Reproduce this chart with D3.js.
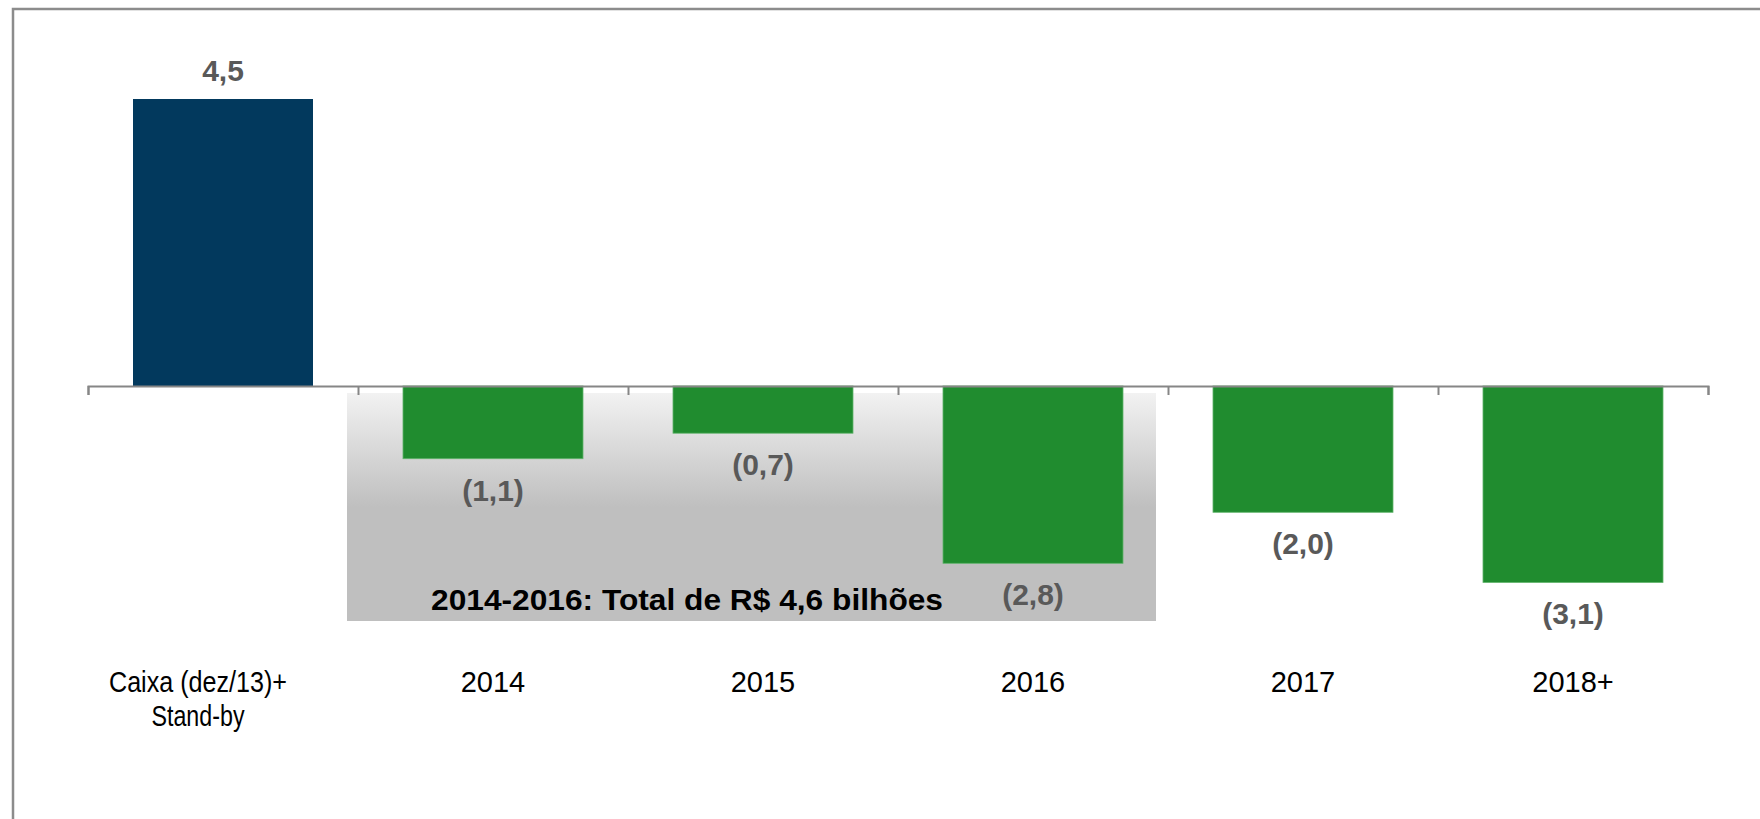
<!DOCTYPE html>
<html>
<head>
<meta charset="utf-8">
<script src="https://cdn.jsdelivr.net/npm/d3@7"></script>
<style>
body { margin: 0; background: #fff; }
text { font-family: "Liberation Sans", Arial, sans-serif; }
</style>
</head>
<body>
<div id="graph"></div>
<script>
var data = [
  {"label": ["Caixa (dez/13)+", "Stand-by"], "fit": [178, 93], "value": 4.5, "shift": -25},
  {"label": ["2014"], "value": -1.14},
  {"label": ["2015"], "value": -0.74},
  {"label": ["2016"], "value": -2.78},
  {"label": ["2017"], "value": -1.98},
  {"label": ["2018+"], "value": -3.08}
]

var width = 1760, height = 819

var svg = d3.select('#graph').html('')
  .append('svg')
  .attr('width', width)
  .attr('height', height)

var x = d3.scaleBand()
  .domain(data.map(function(d){ return d.label[0] }))
  .range([88, 1708])
  .paddingInner(1/3)
  .paddingOuter(1/6)

var y = d3.scaleLinear().domain([0, 4.5]).range([386, 99])

var fmt = function(v){
  var s = d3.format('.1f')(Math.abs(v)).replace('.', ',')
  return v < 0 ? '(' + s + ')' : s
}

// frame, only top and left sides are visible
svg.append('path')
  .attr('d', 'M13,' + height + 'V9H' + width)
  .attr('fill', 'none')
  .attr('stroke', '#8c8c8c')
  .attr('stroke-width', 2.5)

// shaded block for 2014-2016
var grad = svg.append('defs').append('linearGradient')
  .attr('id', 'shade')
  .attr('x1', 0).attr('y1', 0).attr('x2', 0).attr('y2', 1)
grad.append('stop').attr('offset', '0%').attr('stop-color', '#f2f2f2')
grad.append('stop').attr('offset', '50%').attr('stop-color', '#bfbfbf')
grad.append('stop').attr('offset', '100%').attr('stop-color', '#bfbfbf')

var boxX = x('2014') - 56
var boxW = x('2016') + x.bandwidth() + 33 - boxX

svg.append('rect')
  .attr('x', boxX)
  .attr('y', y(0) + 7)
  .attr('width', boxW)
  .attr('height', 228)
  .attr('fill', 'url(#shade)')

svg.selectAll('rect.bar')
  .data(data)
  .enter().append('rect')
  .attr('class', 'bar')
  .attr('x', function(d){ return x(d.label[0]) })
  .attr('y', function(d){ return y(Math.max(0, d.value)) })
  .attr('width', x.bandwidth())
  .attr('height', function(d){ return Math.abs(y(d.value) - y(0)) })
  .attr('fill', function(d){ return d.value > 0 ? '#02395d' : '#208c2f' })
  .attr('stroke', function(d){ return d.value > 0 ? 'none' : '#5fb36a' })
  .attr('stroke-width', 0.8)

// axis ticks sit on the band edges
var xEdge = d3.scaleLinear().domain([0, data.length]).range(x.range())
var axis = svg.append('g')
  .attr('transform', 'translate(0,' + y(0) + ')')
  .call(d3.axisBottom(xEdge).ticks(data.length).tickSize(9).tickSizeOuter(9).tickFormat(''))
axis.selectAll('path, line').attr('stroke', '#868686').attr('stroke-width', 2)

svg.selectAll('text.value')
  .data(data)
  .enter().append('text')
  .attr('class', 'value')
  .attr('x', function(d){ return x(d.label[0]) + x.bandwidth() / 2 })
  .attr('y', function(d){ return d.value > 0 ? y(d.value) - 18 : y(d.value) + 42 })
  .attr('text-anchor', 'middle')
  .attr('font-size', 30)
  .attr('font-weight', 'bold')
  .attr('fill', '#595959')
  .text(function(d){ return fmt(d.value) })

var lines = []
data.forEach(function(d){
  d.label.forEach(function(l, i){
    lines.push({text: l, i: i, fit: d.fit && d.fit[i], x: x(d.label[0]) + x.bandwidth() / 2 + (d.shift || 0)})
  })
})

svg.selectAll('text.cat')
  .data(lines)
  .enter().append('text')
  .attr('class', 'cat')
  .attr('x', function(d){ return d.x })
  .attr('y', function(d){ return 692 + d.i * 34 })
  .attr('text-anchor', 'middle')
  .attr('font-size', 29)
  .attr('fill', '#000')
  .each(function(d){
    if (d.fit) d3.select(this).attr('textLength', d.fit).attr('lengthAdjust', 'spacingAndGlyphs')
  })
  .text(function(d){ return d.text })

svg.append('text')
  .attr('x', boxX + 84)
  .attr('y', 610)
  .attr('font-size', 30)
  .attr('font-weight', 'bold')
  .attr('fill', '#000')
  .attr('textLength', 512)
  .attr('lengthAdjust', 'spacingAndGlyphs')
  .text('2014-2016: Total de R$ 4,6 bilhões')
</script>
</body>
</html>
